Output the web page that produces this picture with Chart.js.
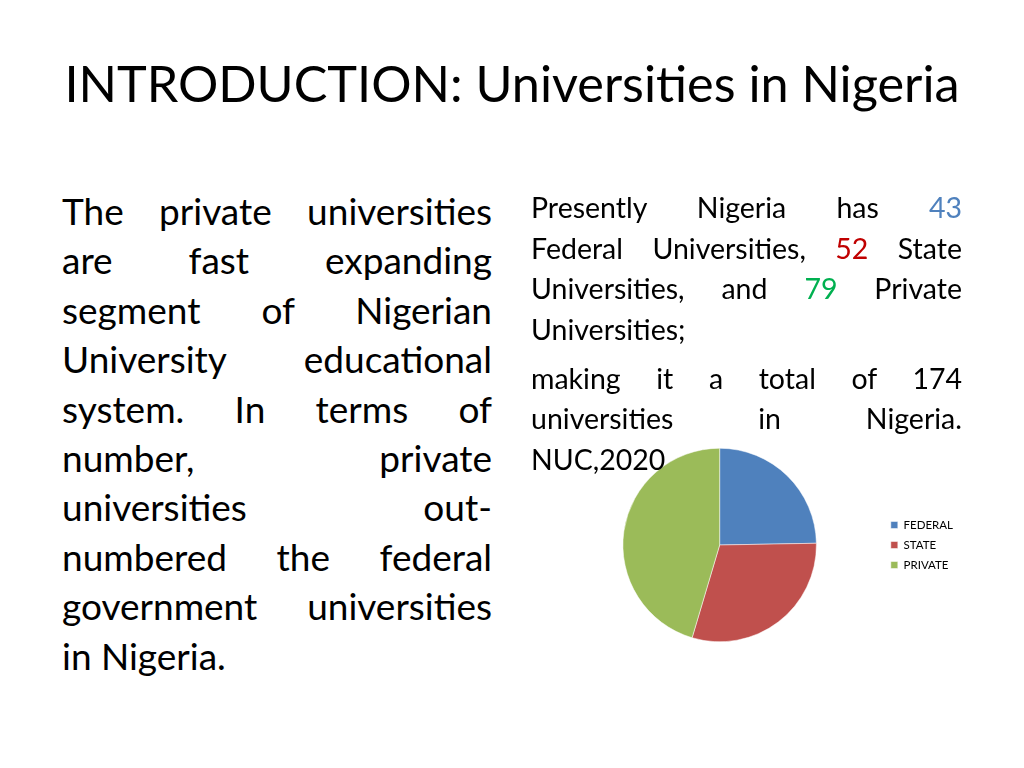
<!DOCTYPE html>
<html>
<head>
<meta charset="utf-8">
<script src="https://cdn.jsdelivr.net/npm/chart.js@4/dist/chart.umd.min.js"></script>
<style>
  html, body { margin:0; padding:0; background:#fff; }
  body { width:1024px; height:768px; position:relative; overflow:hidden; font-family: Lato, "Open Sans", sans-serif; color:#000; }
  #title { position:absolute; left:0; width:1024px; top:57px; font-size:50.4px; line-height:51px; text-align:center; white-space:nowrap; }
  .block { position:absolute; z-index:2; }
  .block .ln { text-align:justify; text-align-last:justify; white-space:nowrap; }
  .block .ln.last { text-align:left; text-align-last:left; }
  #left { left:62px; width:430px; top:186px; font-size:37px; line-height:49.4px; }
  #right { left:531px; width:431px; top:187px; font-size:28.5px; line-height:40.5px; }
  #right .gap { height:8.5px; }
  .fed { color:#4F81BD; } .sta { color:#C00000; } .pri { color:#00B050; }
  #chartWrap { position:absolute; left:557px; top:448px; width:406px; height:194px; z-index:1; }
</style>
</head>
<body>
<div id="title">INTRODUCTION: Universities in Nigeria</div>
<div id="left" class="block">
  <div class="ln">The private universities</div>
  <div class="ln">are fast expanding</div>
  <div class="ln">segment of Nigerian</div>
  <div class="ln">University educational</div>
  <div class="ln">system. In terms of</div>
  <div class="ln">number, private</div>
  <div class="ln">universities out-</div>
  <div class="ln">numbered the federal</div>
  <div class="ln">government universities</div>
  <div class="ln last">in Nigeria.</div>
</div>
<div id="right" class="block">
  <div class="ln">Presently Nigeria has <span class="fed">43</span></div>
  <div class="ln">Federal Universities, <span class="sta">52</span> State</div>
  <div class="ln">Universities, and <span class="pri">79</span> Private</div>
  <div class="ln last">Universities;</div>
  <div class="gap"></div>
  <div class="ln">making it a total of 174</div>
  <div class="ln">universities in Nigeria.</div>
  <div class="ln last">NUC,2020</div>
</div>
<div id="chartWrap"><canvas id="pie"></canvas></div>
<script>
const categories = ["FEDERAL", "STATE", "PRIVATE"];
const universityCounts = [43, 52, 79];
const sliceColors = ["#4F81BD", "#C0504D", "#9BBB59"];

new Chart(document.getElementById("pie"), {
  type: "pie",
  data: {
    labels: categories,
    datasets: [{
      data: universityCounts,
      backgroundColor: sliceColors,
      borderColor: "#ffffff",
      borderWidth: 0.5
    }]
  },
  options: {
    responsive: true,
    maintainAspectRatio: false,
    animation: false,
    layout: { padding: 0 },
    plugins: {
      tooltip: { enabled: false },
      legend: {
        position: "right",
        labels: {
          boxWidth: 7,
          boxHeight: 7,
          padding: 8.5,
          color: "#000",
          font: { family: "Lato", size: 11.5 }
        }
      }
    }
  }
});
</script>
</body>
</html>
